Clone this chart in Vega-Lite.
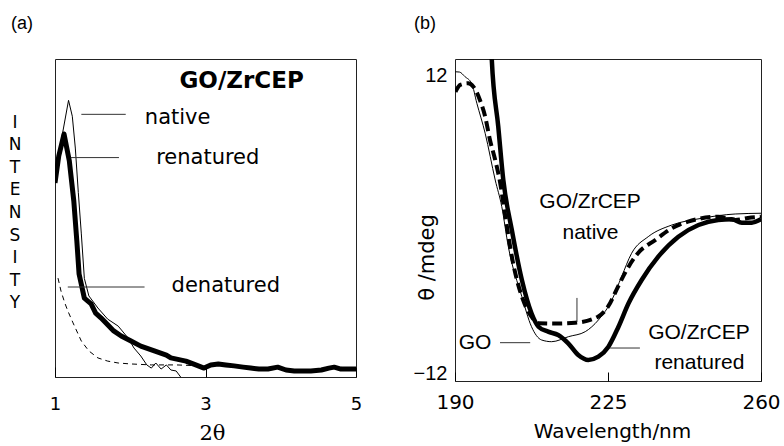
{
  "$schema": "https://vega.github.io/schema/vega-lite/v6.json",
  "background": "white",
  "padding": {"left": 7, "top": 14, "right": 0, "bottom": 0},
  "spacing": 49,
  "config": {
    "view": {"stroke": "#222", "strokeWidth": 1},
    "axis": {"grid": false, "domain": false, "labelColor": "black", "titleColor": "black", "tickColor": "black", "titleFontWeight": "normal", "labelFlush": false, "labelAngle": 0}
  },
  "datasets": {
    "a_native": [
      {"x": 1.0, "y": 61}, {"x": 1.08, "y": 74}, {"x": 1.18, "y": 87}, {"x": 1.23, "y": 82}, {"x": 1.27, "y": 72},
      {"x": 1.31, "y": 58}, {"x": 1.35, "y": 45}, {"x": 1.39, "y": 31}, {"x": 1.45, "y": 25.5}, {"x": 1.57, "y": 21.7},
      {"x": 1.70, "y": 18.2}, {"x": 1.84, "y": 16}, {"x": 1.97, "y": 12.3}, {"x": 2.05, "y": 9.1}, {"x": 2.14, "y": 6.6},
      {"x": 2.22, "y": 3.8}, {"x": 2.28, "y": 2.8}, {"x": 2.34, "y": 4.4}, {"x": 2.41, "y": 2.5}, {"x": 2.48, "y": 3.8},
      {"x": 2.54, "y": 2.2}, {"x": 2.61, "y": 1.9}, {"x": 2.67, "y": 0}
    ],
    "a_renatured": [
      {"x": 1.0, "y": 61}, {"x": 1.05, "y": 69.5}, {"x": 1.12, "y": 76.4}, {"x": 1.19, "y": 68}, {"x": 1.25, "y": 55.3},
      {"x": 1.29, "y": 42.8}, {"x": 1.32, "y": 32.4}, {"x": 1.39, "y": 24.8}, {"x": 1.48, "y": 23}, {"x": 1.54, "y": 20.1},
      {"x": 1.61, "y": 18.6}, {"x": 1.70, "y": 16.4}, {"x": 1.78, "y": 14.5}, {"x": 1.88, "y": 12.9}, {"x": 2.01, "y": 11.3},
      {"x": 2.14, "y": 9.7}, {"x": 2.32, "y": 8.2}, {"x": 2.48, "y": 6.9}, {"x": 2.54, "y": 6.0}, {"x": 2.74, "y": 5.0},
      {"x": 2.87, "y": 3.8}, {"x": 2.98, "y": 2.8}, {"x": 3.07, "y": 3.8}, {"x": 3.17, "y": 4.1}, {"x": 3.27, "y": 3.8},
      {"x": 3.38, "y": 3.5}, {"x": 3.50, "y": 3.1}, {"x": 3.60, "y": 2.8}, {"x": 3.71, "y": 2.5}, {"x": 3.83, "y": 2.5},
      {"x": 3.96, "y": 3.1}, {"x": 4.07, "y": 2.2}, {"x": 4.18, "y": 1.9}, {"x": 4.30, "y": 1.9}, {"x": 4.40, "y": 1.9},
      {"x": 4.54, "y": 2.2}, {"x": 4.64, "y": 2.8}, {"x": 4.71, "y": 3.1}, {"x": 4.80, "y": 2.5}, {"x": 4.91, "y": 2.5},
      {"x": 5.0, "y": 2.5}
    ],
    "a_denatured": [
      {"x": 1.04, "y": 31.1}, {"x": 1.08, "y": 27}, {"x": 1.13, "y": 23.3}, {"x": 1.17, "y": 20.8}, {"x": 1.24, "y": 17},
      {"x": 1.35, "y": 11.3}, {"x": 1.45, "y": 8.2}, {"x": 1.57, "y": 6.0}, {"x": 1.70, "y": 5.0}, {"x": 1.84, "y": 4.4},
      {"x": 2.01, "y": 4.1}, {"x": 2.28, "y": 3.8}, {"x": 2.61, "y": 3.8}, {"x": 2.94, "y": 3.5}
    ],
    "a_text": [
      {"x": 2.63, "y": 81.4, "label": "native"},
      {"x": 3.03, "y": 69.0, "label": "renatured"},
      {"x": 3.27, "y": 28.6, "label": "denatured"}
    ],
    "a_title": [{"x": 3.48, "y": 93.2, "label": "GO/ZrCEP"}],
    "a_leaders": [
      {"x": 1.35, "x2": 1.94, "y": 82.6, "y2": 82.6},
      {"x": 1.21, "x2": 1.85, "y": 69.0, "y2": 69.0},
      {"x": 1.17, "x2": 2.19, "y": 28.3, "y2": 28.3}
    ],
    "b_go": [
      {"x": 190.1, "y": 12.3}, {"x": 191.0, "y": 12.28}, {"x": 192.3, "y": 11.9}, {"x": 193.8, "y": 11.37}, {"x": 195.0, "y": 9.76},
      {"x": 196.9, "y": 7.34}, {"x": 199.2, "y": 3.57}, {"x": 200.7, "y": 1.42}, {"x": 202.2, "y": -1.81}, {"x": 205.3, "y": -5.84},
      {"x": 207.5, "y": -8.26}, {"x": 209.8, "y": -9.33}, {"x": 212.1, "y": -9.47}, {"x": 216.0, "y": -9.06}, {"x": 219.8, "y": -8.66},
      {"x": 222.8, "y": -7.72}, {"x": 225.9, "y": -6.10}, {"x": 228.1, "y": -4.23}, {"x": 230.4, "y": -2.34}, {"x": 234.2, "y": -1.0},
      {"x": 239.6, "y": -0.06}, {"x": 246.4, "y": 0.48}, {"x": 254.1, "y": 0.83}, {"x": 260, "y": 0.89}
    ],
    "b_native": [
      {"x": 190.1, "y": 10.69}, {"x": 191.2, "y": 11.25}, {"x": 193.0, "y": 11.37}, {"x": 194.2, "y": 11.10}, {"x": 195.7, "y": 10.02},
      {"x": 196.9, "y": 8.68}, {"x": 198.0, "y": 6.8}, {"x": 199.2, "y": 5.19}, {"x": 200.3, "y": 3.4}, {"x": 201.4, "y": 0.89},
      {"x": 203.3, "y": -3.15}, {"x": 205.3, "y": -5.84}, {"x": 207.5, "y": -7.45}, {"x": 209.1, "y": -7.98}, {"x": 213.0, "y": -8.0},
      {"x": 217.5, "y": -7.94}, {"x": 222.7, "y": -7.45}, {"x": 225.0, "y": -6.65}, {"x": 227.3, "y": -5.03}, {"x": 228.9, "y": -3.92},
      {"x": 231.9, "y": -2.31}, {"x": 235.8, "y": -1.27}, {"x": 239.7, "y": -0.30}, {"x": 243.3, "y": 0.21}, {"x": 250.2, "y": 0.61},
      {"x": 254.1, "y": 0.35}, {"x": 257.0, "y": 0.51}, {"x": 260, "y": 0.61}
    ],
    "b_renatured": [
      {"x": 198.2, "y": 15}, {"x": 198.4, "y": 13.39}, {"x": 199.9, "y": 7.87}, {"x": 201.05, "y": 3.57}, {"x": 203.0, "y": -0.46},
      {"x": 205.3, "y": -4.50}, {"x": 207.5, "y": -7.18}, {"x": 209.1, "y": -8.26}, {"x": 211.3, "y": -8.66}, {"x": 213.6, "y": -8.93},
      {"x": 215.9, "y": -9.60}, {"x": 218.2, "y": -10.54}, {"x": 220.5, "y": -10.94}, {"x": 222.8, "y": -10.68}, {"x": 225.1, "y": -9.87},
      {"x": 227.4, "y": -8.26}, {"x": 229.7, "y": -6.37}, {"x": 232.7, "y": -4.49}, {"x": 236.5, "y": -2.61}, {"x": 241.1, "y": -1.0},
      {"x": 245.7, "y": -0.06}, {"x": 250.2, "y": 0.35}, {"x": 253.3, "y": 0.40}, {"x": 255.6, "y": 0.13}, {"x": 257.9, "y": 0.13},
      {"x": 260, "y": 0.40}
    ],
    "b_text": [
      {"x": 220.9, "y": 1.82, "label": "GO/ZrCEP"},
      {"x": 221.0, "y": -0.73, "label": "native"},
      {"x": 194.6, "y": -9.61, "label": "GO"},
      {"x": 245.8, "y": -8.79, "label": "GO/ZrCEP"},
      {"x": 245.9, "y": -11.21, "label": "renatured"}
    ],
    "b_leaders": [
      {"x": 217.9, "x2": 217.9, "y": -5.94, "y2": -7.88},
      {"x": 200.3, "x2": 207.2, "y": -9.55, "y2": -9.55},
      {"x": 225.5, "x2": 232.3, "y": -9.98, "y2": -9.98}
    ]
  },
  "hconcat": [
    {
      "width": 301,
      "height": 318,
      "title": {"text": "(a)", "anchor": "start", "frame": "group", "dx": -44, "offset": 26, "font": "Liberation Sans", "fontSize": 18, "fontWeight": "normal", "color": "black"},
      "encoding": {
        "x": {"field": "x", "type": "quantitative",
          "scale": {"domain": [1, 5], "nice": false, "zero": false},
          "axis": {"values": [1, 3, 5], "tickSize": -10, "tickWidth": 1, "labelPadding": 28, "labelFont": "DejaVu Sans", "labelFontSize": 18,
            "title": "2θ", "titleFont": "DejaVu Serif", "titleFontSize": 21, "titleX": 157, "titleY": 62, "titleAlign": "center", "titleBaseline": "alphabetic"}},
        "y": {"field": "y", "type": "quantitative",
          "scale": {"domain": [0, 100], "nice": false, "zero": false},
          "axis": {"labels": false, "ticks": false,
            "title": ["I", "N", "T", "E", "N", "S", "I", "T", "Y"], "titleAngle": 0, "titleFont": "DejaVu Sans", "titleFontSize": 17,
            "titleLineHeight": 22.6, "titleX": -40.5, "titleY": 63, "titleAlign": "center", "titleBaseline": "middle"}}
      },
      "layer": [
        {"data": {"name": "a_native"}, "mark": {"type": "line", "color": "black", "strokeWidth": 1, "clip": true}},
        {"data": {"name": "a_denatured"}, "mark": {"type": "line", "color": "black", "strokeWidth": 1, "strokeDash": [5, 4], "clip": true}},
        {"data": {"name": "a_renatured"}, "mark": {"type": "line", "color": "black", "strokeWidth": 5, "strokeJoin": "round", "clip": true}},
        {"data": {"name": "a_leaders"}, "mark": {"type": "rule", "color": "#333", "strokeWidth": 1},
          "encoding": {"x2": {"field": "x2"}, "y2": {"field": "y2"}}},
        {"data": {"name": "a_text"}, "mark": {"type": "text", "font": "DejaVu Sans", "fontSize": 21, "align": "center", "baseline": "middle", "color": "black"},
          "encoding": {"text": {"field": "label"}}},
        {"data": {"name": "a_title"}, "mark": {"type": "text", "font": "DejaVu Sans", "fontWeight": "bold", "fontSize": 23, "align": "center", "baseline": "middle", "color": "black"},
          "encoding": {"text": {"field": "label"}}}
      ]
    },
    {
      "width": 306,
      "height": 322,
      "title": {"text": "(b)", "anchor": "start", "frame": "group", "dx": -41, "offset": 26, "font": "Liberation Sans", "fontSize": 18, "fontWeight": "normal", "color": "black"},
      "encoding": {
        "x": {"field": "x", "type": "quantitative",
          "scale": {"domain": [190, 260], "nice": false, "zero": false},
          "axis": {"values": [190, 225, 260], "tickSize": -9, "tickWidth": 1, "labelPadding": 20, "labelFont": "DejaVu Sans", "labelFontSize": 20,
            "title": "Wavelength/nm", "titleFont": "DejaVu Sans", "titleFontSize": 20, "titleX": 157, "titleY": 56, "titleAlign": "center", "titleBaseline": "alphabetic"}},
        "y": {"field": "y", "type": "quantitative",
          "scale": {"domain": [-12.64, 13.33], "nice": false, "zero": false},
          "axis": {"values": [-12, 12], "ticks": false, "labelPadding": 8, "labelFont": "Liberation Sans", "labelFontSize": 20,
            "title": "θ /mdeg", "titleFont": "DejaVu Sans", "titleFontSize": 21, "titleX": -27.5, "titleY": 198, "titleAlign": "center", "titleBaseline": "middle", "titleAngle": 270}}
      },
      "layer": [
        {"data": {"name": "b_go"}, "mark": {"type": "line", "color": "black", "strokeWidth": 1, "interpolate": "monotone", "clip": true}},
        {"data": {"name": "b_native"}, "mark": {"type": "line", "color": "black", "strokeWidth": 4, "strokeDash": [10, 5], "interpolate": "monotone", "clip": true}},
        {"data": {"name": "b_renatured"}, "mark": {"type": "line", "color": "black", "strokeWidth": 4.5, "interpolate": "monotone", "clip": true}},
        {"data": {"name": "b_leaders"}, "mark": {"type": "rule", "color": "#333", "strokeWidth": 1},
          "encoding": {"x2": {"field": "x2"}, "y2": {"field": "y2"}}},
        {"data": {"name": "b_text"}, "mark": {"type": "text", "font": "Liberation Sans", "fontSize": 21, "align": "center", "baseline": "middle", "color": "black"},
          "encoding": {"text": {"field": "label"}}}
      ]
    }
  ]
}
